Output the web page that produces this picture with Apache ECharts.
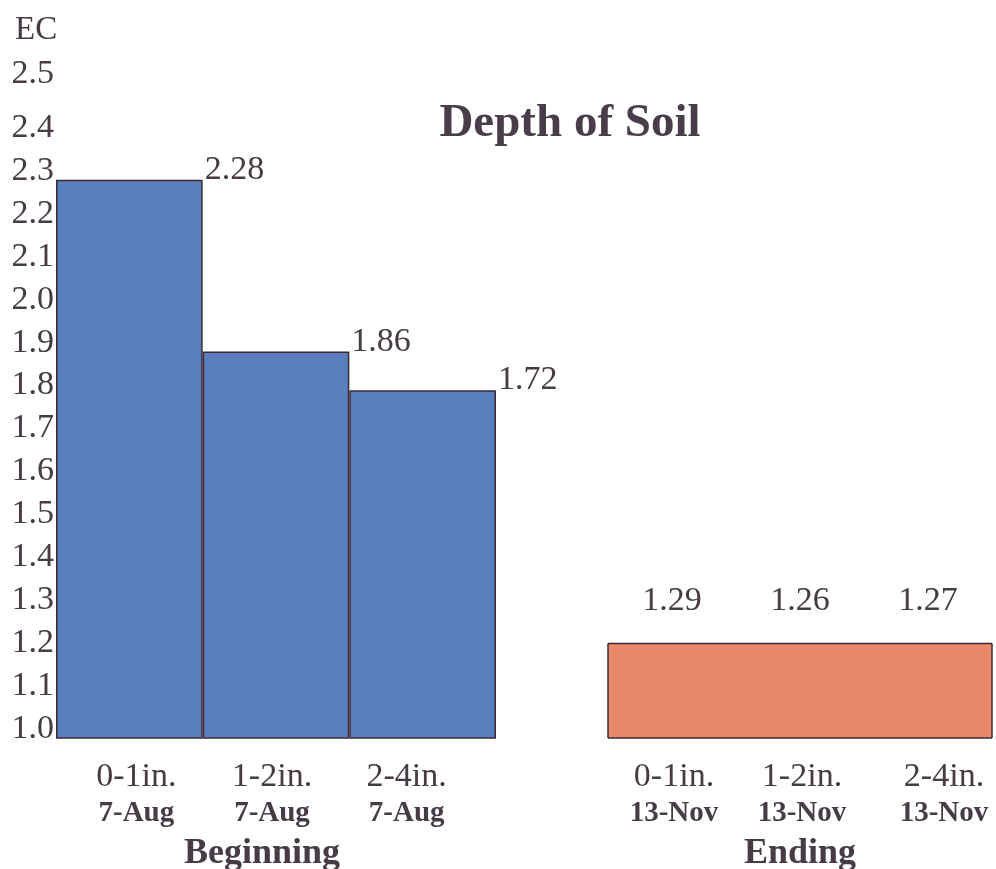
<!DOCTYPE html>
<html>
<head>
<meta charset="utf-8">
<script src="https://cdn.jsdelivr.net/npm/echarts@6/dist/echarts.min.js"></script>
<style>
  html, body { margin: 0; padding: 0; background: #ffffff; }
  #chart { width: 996px; height: 869px; }
</style>
</head>
<body>
<div id="chart"></div>
<script>
// ---- data ----
const depthCategories = ['0-1in.', '1-2in.', '2-4in.'];
const beginDates = ['7-Aug', '7-Aug', '7-Aug'];
const endDates = ['13-Nov', '13-Nov', '13-Nov'];
const groupNames = ['Beginning', 'Ending'];
// printed value labels
const beginPrinted = [2.28, 1.86, 1.72];
const endPrinted = [1.29, 1.26, 1.27];
// bar heights as drawn against the EC axis
const beginBarHeights = [2.30, 1.90, 1.81];
const endBarHeights = [1.22, 1.22, 1.22];
// y axis
const yMin = 1.0, yMax = 2.5, yStep = 0.1;

// ---- styles ----
const TXT = '#473b46';
const SERIF = '"Liberation Serif", "DejaVu Serif", serif';
const BLUE = '#5b7ebf';
const ORANGE = '#e8876a';
const EDGE = '#3b2a36';
// horizontal nudges of the category labels (px), to follow the original layout
const beginLabelShift = [7, -4, -16];
const endLabelShift = [2, 2, 16];

const chart = echarts.init(document.getElementById('chart'), null, { renderer: 'canvas' });

function xLabel(dates, shifts) {
  const rich = {};
  shifts.forEach((s, i) => {
    const pad = s >= 0 ? [0, 0, 0, 2 * s] : [0, -2 * s, 0, 0];
    rich['a' + i] = { fontFamily: SERIF, fontSize: 34, color: TXT, lineHeight: 40, padding: pad };
    rich['b' + i] = { fontFamily: SERIF, fontSize: 29, fontWeight: 'bold', color: TXT, lineHeight: 34, padding: pad };
  });
  return {
    interval: 0,
    margin: 19,
    formatter: (v, i) => '{a' + i + '|' + v + '}\n{b' + i + '|' + dates[i] + '}',
    rich
  };
}

const option = {
  backgroundColor: '#ffffff',
  animation: false,
  title: [
    { text: 'Depth of Soil', left: 565, top: 95, textAlign: 'center',
      textStyle: { fontFamily: SERIF, fontSize: 47, fontWeight: 'bold', color: '#4a3d4a' } },
    { text: 'EC', left: 10, top: 9,
      textStyle: { fontFamily: SERIF, fontSize: 33, fontWeight: 'normal', color: TXT } }
  ],
  grid: [
    { left: 56, width: 440, top: 94, bottom: 131, containLabel: false, outerBoundsMode: 'none' },
    { left: 608, width: 384, top: 94, bottom: 131, containLabel: false, outerBoundsMode: 'none' }
  ],
  xAxis: [
    { type: 'category', gridIndex: 0, data: depthCategories,
      axisLine: { show: false }, axisTick: { show: false },
      axisLabel: xLabel(beginDates, beginLabelShift),
      name: groupNames[0], nameLocation: 'middle', nameGap: 98,
      nameTextStyle: { fontFamily: SERIF, fontSize: 36, fontWeight: 'bold', color: TXT, padding: [0, 28, 0, 0] } },
    { type: 'category', gridIndex: 1, data: depthCategories,
      axisLine: { show: false }, axisTick: { show: false },
      axisLabel: xLabel(endDates, endLabelShift),
      name: groupNames[1], nameLocation: 'middle', nameGap: 98,
      nameTextStyle: { fontFamily: SERIF, fontSize: 36, fontWeight: 'bold', color: TXT } }
  ],
  yAxis: [
    { type: 'value', gridIndex: 0, min: yMin, max: yMax, interval: yStep,
      axisLine: { show: false }, axisTick: { show: false }, splitLine: { show: false },
      axisLabel: { margin: 2, fontFamily: SERIF, fontSize: 34, color: TXT,
        verticalAlign: 'bottom', lineHeight: 18,
        formatter: v => Math.abs(v - yMax) < 1e-9 ? '{top|' + v.toFixed(1) + '}' : v.toFixed(1),
        rich: { top: { fontFamily: SERIF, fontSize: 34, color: TXT, lineHeight: 40 } } } },
    { type: 'value', gridIndex: 1, min: yMin, max: yMax, interval: yStep, show: false }
  ],
  series: [
    {
      type: 'bar', xAxisIndex: 0, yAxisIndex: 0,
      data: beginBarHeights,
      barWidth: '100%', barCategoryGap: '0%',
      itemStyle: { color: BLUE, borderColor: EDGE, borderWidth: 1.5 },
      label: {
        show: true, position: ['100%', '0%'], align: 'left', verticalAlign: 'bottom',
        offset: [2, 7],
        fontFamily: SERIF, fontSize: 34, color: TXT,
        formatter: p => beginPrinted[p.dataIndex].toFixed(2)
      }
    },
    {
      type: 'custom', xAxisIndex: 1, yAxisIndex: 1,
      data: endBarHeights.map((v, i) => [i, v]),
      encode: { x: 0, y: 1 },
      renderItem: function (params, api) {
        const i = params.dataIndex;
        const n = endBarHeights.length;
        const top = api.coord([api.value(0), api.value(1)]);
        const base = api.coord([api.value(0), yMin]);
        const w = api.size([1, 0])[0];
        const x0 = top[0] - w / 2, x1 = top[0] + w / 2;
        const line = { stroke: EDGE, lineWidth: 1.5 };
        const children = [
          { type: 'rect', shape: { x: x0, y: top[1], width: w, height: base[1] - top[1] },
            style: { fill: ORANGE } },
          { type: 'line', shape: { x1: x0, y1: top[1], x2: x1, y2: top[1] }, style: line },
          { type: 'line', shape: { x1: x0, y1: base[1], x2: x1, y2: base[1] }, style: line },
          { type: 'text', style: { text: endPrinted[i].toFixed(2), x: top[0], y: top[1] - 25,
              align: 'center', verticalAlign: 'bottom',
              font: '34px ' + SERIF, fill: TXT } }
        ];
        if (i === 0) children.push({ type: 'line', shape: { x1: x0, y1: top[1], x2: x0, y2: base[1] }, style: line });
        if (i === n - 1) children.push({ type: 'line', shape: { x1: x1, y1: top[1], x2: x1, y2: base[1] }, style: line });
        return { type: 'group', children };
      }
    }
  ]
};

chart.setOption(option);
</script>
</body>
</html>
